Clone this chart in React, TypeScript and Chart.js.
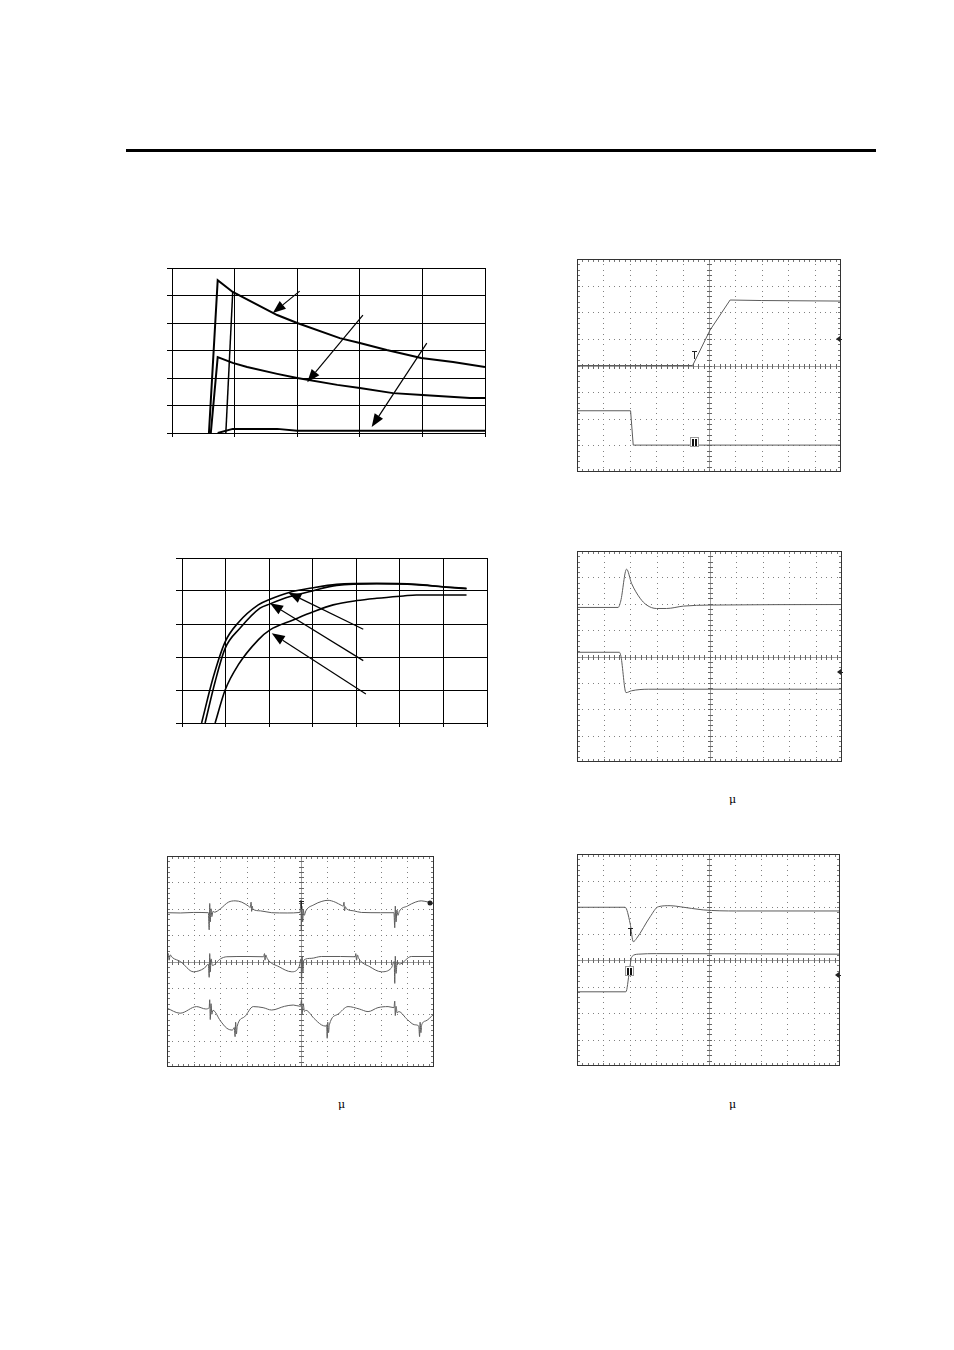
import React, { useEffect, useRef } from 'react';
import { Chart, registerables } from 'chart.js';

Chart.register(...registerables);

type P = [number, number];
type Arrow = [number, number, number, number];
type Marker = { kind: 'T' | 'II' | 'tri' | 'dot'; x: number; y: number };

// ---------- Chart 1 (top-left) ----------
const C1_A: P[] = [[0.59, 0], [0.73, 5.56], [0.97, 5.13], [1.68, 4.29], [2.0, 4.0], [2.68, 3.45], [3.0, 3.27], [3.43, 3.02], [3.98, 2.73], [4.49, 2.58], [5.0, 2.4]];
const C1_B: P[] = [[0.86, 0], [0.97, 5.13]];
const C1_C: P[] = [[0.62, 0], [0.73, 2.76], [0.97, 2.55], [1.2, 2.4], [1.68, 2.15], [2.0, 2.0], [2.64, 1.75], [3.0, 1.64], [3.53, 1.45], [4.0, 1.38], [4.76, 1.27], [5.0, 1.27]];
const C1_D: P[] = [[0.73, 0], [0.97, 0.15], [1.68, 0.15], [2.0, 0.08], [5.0, 0.08]];
const C1_ARROWS: Arrow[] = [[2.04, 5.16, 1.61, 4.36], [3.05, 4.29, 2.16, 1.85], [4.07, 3.27, 3.19, 0.22]];

// ---------- Chart 2 (middle-left) ----------
const C2_A: P[] = [[0.45, 0], [0.72, 1.4], [0.99, 2.46], [1.29, 3.04], [1.75, 3.58], [2.02, 3.75], [2.44, 3.95], [3.01, 4.1], [3.55, 4.2], [4.47, 4.23], [5.38, 4.2], [5.99, 4.13], [6.53, 4.08]];
const C2_B: P[] = [[0.53, 0], [0.76, 1.25], [0.99, 2.26], [1.33, 2.87], [1.79, 3.48], [2.02, 3.61], [2.48, 3.83], [3.01, 4.01], [3.55, 4.17], [4.47, 4.22], [5.38, 4.19], [5.99, 4.12], [6.53, 4.07]];
const C2_C: P[] = [[0.76, 0], [0.99, 1.0], [1.29, 1.76], [1.75, 2.52], [2.02, 2.82], [2.55, 3.12], [3.01, 3.37], [3.47, 3.58], [4.01, 3.71], [4.47, 3.78], [5.08, 3.85], [5.38, 3.88], [6.53, 3.88]];
const C2_ARROWS: Arrow[] = [[4.16, 2.84, 2.44, 3.95], [4.16, 1.89, 2.02, 3.63], [4.22, 0.88, 2.06, 2.72]];

// ---------- Chart 3 (top-right scope) ----------
const C3_T1: P[] = [[0, 0], [4.38, 0], [5.04, 1.33], [5.8, 2.46], [7.0, 2.44], [10, 2.42]];
const C3_T2: P[] = [[0, -1.7], [2.03, -1.7], [2.13, -2.99], [10, -2.99]];
const C3_MARKERS: Marker[] = [{ kind: 'T', x: 4.43, y: 0.4 }, { kind: 'II', x: 4.43, y: -2.88 }, { kind: 'tri', x: 9.93, y: 1.0 }];

// ---------- Chart 4 (middle-right scope) ----------
const C4_T1: P[] = [[0, 1.86], [1.55, 1.86], [1.65, 2.1], [1.87, 3.31], [2.06, 2.77], [2.38, 2.21], [2.63, 1.95], [3.0, 1.82], [3.38, 1.82], [4.01, 1.91], [5.02, 1.95], [10, 1.97]];
const C4_T2: P[] = [[0, 0.16], [1.6, 0.16], [1.66, 0.0], [1.85, -1.37], [2.06, -1.3], [2.69, -1.24], [10, -1.24]];
const C4_MARKERS: Marker[] = [{ kind: 'tri', x: 9.93, y: -0.6 }];

// ---------- Chart 5 (bottom-left scope) ----------
const C5_A: P[] = [[0, 1.85], [0.5, 1.84], [1.0, 1.86], [1.55, 1.85], [1.58, 1.2], [1.6, 2.2], [1.62, 1.5], [1.65, 2.0], [1.68, 1.7], [1.72, 1.9], [1.78, 1.87], [2.0, 2.0], [2.3, 2.25], [2.55, 2.3], [2.8, 2.25], [3.05, 2.1], [3.12, 2.05], [3.15, 2.25], [3.17, 1.9], [3.19, 2.1], [3.22, 1.98], [3.5, 1.92], [3.92, 1.85], [4.5, 1.84], [4.98, 1.86], [5.02, 2.33], [5.03, 1.19], [5.05, 2.1], [5.08, 1.5], [5.11, 1.95], [5.14, 1.75], [5.2, 1.92], [5.5, 2.15], [5.8, 2.28], [6.03, 2.32], [6.3, 2.25], [6.55, 2.12], [6.6, 2.1], [6.63, 2.25], [6.65, 1.92], [6.68, 2.08], [6.72, 2.0], [7.0, 1.92], [7.28, 1.86], [8.0, 1.85], [8.5, 1.85], [8.53, 1.28], [8.55, 2.1], [8.58, 1.5], [8.61, 1.95], [8.65, 1.75], [8.7, 1.9], [9.0, 2.1], [9.3, 2.25], [9.52, 2.3], [9.8, 2.25], [10, 2.2]];
const C5_B: P[] = [[0, 0.18], [0.05, 0.3], [0.08, 0.05], [0.12, 0.25], [0.2, 0.15], [0.5, 0.0], [0.99, -0.39], [1.4, -0.25], [1.55, -0.1], [1.58, -0.6], [1.6, 0.3], [1.62, -0.4], [1.65, 0.1], [1.7, -0.15], [2.0, 0.1], [2.24, 0.18], [3.0, 0.19], [3.62, 0.18], [3.65, 0.3], [3.67, 0.05], [3.7, 0.25], [3.75, 0.12], [4.2, -0.2], [4.67, -0.39], [4.95, -0.2], [5.02, 0.1], [5.04, -0.75], [5.06, 0.2], [5.09, -0.4], [5.12, 0.05], [5.4, 0.12], [5.78, 0.19], [6.5, 0.19], [7.05, 0.18], [7.07, 0.3], [7.1, 0.05], [7.13, 0.25], [7.18, 0.12], [7.6, -0.2], [8.03, -0.39], [8.4, -0.25], [8.51, 0.0], [8.53, -0.83], [8.55, 0.2], [8.58, -0.45], [8.62, 0.0], [8.7, -0.1], [9.15, 0.19], [10, 0.19]];
const C5_C: P[] = [[0, -1.77], [0.49, -1.96], [1.11, -1.71], [1.45, -1.8], [1.58, -1.75], [1.6, -1.45], [1.62, -2.2], [1.65, -1.6], [1.68, -2.0], [1.72, -1.85], [2.0, -2.25], [2.24, -2.53], [2.45, -2.6], [2.52, -2.5], [2.55, -2.85], [2.57, -2.3], [2.6, -2.75], [2.63, -2.45], [2.9, -2.1], [3.23, -1.71], [3.6, -1.75], [3.92, -1.84], [4.4, -1.7], [4.73, -1.65], [5.0, -1.7], [5.04, -1.45], [5.06, -2.0], [5.1, -1.6], [5.15, -1.9], [5.2, -1.85], [5.5, -2.15], [5.78, -2.4], [5.95, -2.45], [5.98, -2.4], [6.0, -2.91], [6.02, -2.3], [6.05, -2.7], [6.08, -2.4], [6.4, -2.0], [6.78, -1.71], [7.2, -1.8], [7.53, -1.9], [7.9, -1.75], [8.28, -1.71], [8.5, -1.75], [8.53, -1.5], [8.55, -2.05], [8.58, -1.7], [8.62, -1.95], [8.68, -1.9], [9.0, -2.2], [9.28, -2.4], [9.43, -2.45], [9.46, -2.85], [9.48, -2.3], [9.51, -2.7], [9.54, -2.4], [9.7, -2.25], [9.96, -2.03]];
const C5_MARKERS: Marker[] = [{ kind: 'T', x: 5.0, y: 2.15 }, { kind: 'dot', x: 9.85, y: 2.2 }];

// ---------- Chart 6 (bottom-right scope) ----------
const C6_T1: P[] = [[0, 1.99], [1.83, 1.99], [2.02, 1.38], [2.14, 0.69], [2.27, 0.82], [2.78, 1.63], [3.09, 2.01], [3.54, 2.05], [3.92, 2.01], [4.8, 1.89], [6.07, 1.85], [10, 1.85]];
const C6_T2: P[] = [[0, -1.2], [1.86, -1.2], [1.99, -0.44], [2.08, 0.12], [2.33, 0.22], [3.03, 0.24], [10, 0.22]];
const C6_MARKERS: Marker[] = [{ kind: 'T', x: 2.02, y: 1.05 }, { kind: 'II', x: 1.98, y: -0.42 }, { kind: 'tri', x: 9.93, y: -0.57 }];

const toXY = (a: P[]) => a.map(([x, y]) => ({ x, y }));

function arrowPlugin(arrows: Arrow[]) {
  return {
    id: 'arrows',
    afterDatasetsDraw(chart: any) {
      const { ctx, scales } = chart;
      ctx.save();
      ctx.strokeStyle = '#000';
      ctx.fillStyle = '#000';
      ctx.lineWidth = 1.2;
      for (const [x1, y1, x2, y2] of arrows) {
        const ax = scales.x.getPixelForValue(x1);
        const ay = scales.y.getPixelForValue(y1);
        const bx = scales.x.getPixelForValue(x2);
        const by = scales.y.getPixelForValue(y2);
        const ang = Math.atan2(by - ay, bx - ax);
        const L = 13, W = 5;
        const hx = bx - L * Math.cos(ang), hy = by - L * Math.sin(ang);
        ctx.beginPath();
        ctx.moveTo(ax, ay);
        ctx.lineTo(hx, hy);
        ctx.stroke();
        ctx.beginPath();
        ctx.moveTo(bx, by);
        ctx.lineTo(hx + W * Math.sin(ang), hy - W * Math.cos(ang));
        ctx.lineTo(hx - W * Math.sin(ang), hy + W * Math.cos(ang));
        ctx.closePath();
        ctx.fill();
      }
      ctx.restore();
    },
  };
}

const graticulePlugin = {
  id: 'graticule',
  beforeDatasetsDraw(chart: any) {
    const { ctx, scales, chartArea } = chart;
    const xs = scales.x, ys = scales.y;
    const px = (v: number) => Math.round(xs.getPixelForValue(v));
    const py = (v: number) => Math.round(ys.getPixelForValue(v));
    ctx.save();
    ctx.fillStyle = '#808080';
    for (let i = 1; i < 10; i++) {
      if (i === 5) continue;
      for (let j = 1; j < 40; j++) ctx.fillRect(px(i), py(-4 + j * 0.2), 1, 1);
    }
    for (let i = -3; i <= 3; i++) {
      if (i === 0) continue;
      for (let j = 1; j < 50; j++) ctx.fillRect(px(j * 0.2), py(i), 1, 1);
    }
    ctx.fillStyle = '#a0a0a0';
    ctx.fillRect(px(5), chartArea.top, 1, chartArea.bottom - chartArea.top);
    ctx.fillRect(chartArea.left, py(0), chartArea.right - chartArea.left, 1);
    ctx.fillStyle = '#666';
    for (let j = 1; j < 40; j++) ctx.fillRect(px(5) - 2, py(-4 + j * 0.2), 5, 1);
    for (let j = 1; j < 50; j++) ctx.fillRect(px(j * 0.2), py(0) - 2, 1, 5);
    ctx.fillStyle = '#777';
    for (let j = 1; j < 50; j++) {
      ctx.fillRect(px(j * 0.2), chartArea.top, 1, 3);
      ctx.fillRect(px(j * 0.2), chartArea.bottom - 3, 1, 3);
    }
    for (let j = 1; j < 40; j++) {
      ctx.fillRect(chartArea.left, py(-4 + j * 0.2), 3, 1);
      ctx.fillRect(chartArea.right - 3, py(-4 + j * 0.2), 3, 1);
    }
    ctx.restore();
  },
  afterDatasetsDraw(chart: any) {
    const { ctx, chartArea } = chart;
    ctx.save();
    ctx.strokeStyle = '#333';
    ctx.lineWidth = 1;
    ctx.strokeRect(chartArea.left + 0.5, chartArea.top + 0.5, chartArea.right - chartArea.left - 1, chartArea.bottom - chartArea.top - 1);
    ctx.restore();
  },
};

function markerPlugin(markers: Marker[]) {
  return {
    id: 'markers',
    afterDatasetsDraw(chart: any) {
      const { ctx, scales } = chart;
      ctx.save();
      for (const m of markers) {
        const x = Math.round(scales.x.getPixelForValue(m.x));
        const y = Math.round(scales.y.getPixelForValue(m.y));
        if (m.kind === 'T') {
          ctx.fillStyle = '#222';
          ctx.fillRect(x - 2, y - 4, 5, 1);
          ctx.fillRect(x, y - 4, 1, 8);
        } else if (m.kind === 'II') {
          ctx.fillStyle = '#999';
          ctx.fillRect(x - 4, y - 5, 9, 10);
          ctx.fillStyle = '#fff';
          ctx.fillRect(x - 3, y - 4, 7, 8);
          ctx.fillStyle = '#111';
          ctx.fillRect(x - 2, y - 3, 2, 7);
          ctx.fillRect(x + 1, y - 3, 2, 7);
        } else if (m.kind === 'tri') {
          ctx.fillStyle = '#222';
          ctx.beginPath();
          ctx.moveTo(x - 3, y);
          ctx.lineTo(x + 1, y - 3);
          ctx.lineTo(x + 1, y + 3);
          ctx.closePath();
          ctx.fill();
          ctx.fillRect(x, y, 3, 1);
        } else {
          ctx.fillStyle = '#222';
          ctx.beginPath();
          ctx.arc(x, y, 2.5, 0, Math.PI * 2);
          ctx.fill();
        }
      }
      ctx.restore();
    },
  };
}

const line = (pts: P[], color: string, width: number, smooth = false) => ({
  data: toXY(pts),
  borderColor: color,
  borderWidth: width,
  pointRadius: 0,
  tension: smooth ? 0.4 : 0,
  cubicInterpolationMode: smooth ? 'monotone' : 'default',
  fill: false,
});

const excelConfig = (sets: any[], xMax: number, yMax: number, yTick: number, xTick: number, arrows: Arrow[]) => ({
  type: 'line',
  data: { datasets: sets },
  options: {
    animation: false,
    responsive: false,
    events: [],
    layout: { padding: 10 },
    plugins: { legend: { display: false }, tooltip: { enabled: false } },
    scales: {
      x: {
        type: 'linear', min: 0, max: xMax,
        ticks: { display: false, stepSize: 1 },
        grid: { color: '#000', lineWidth: 1, tickLength: xTick, tickColor: '#000' },
        border: { color: '#000', width: 1 },
      },
      y: {
        type: 'linear', min: 0, max: yMax,
        ticks: { display: false, stepSize: 1 },
        grid: { color: '#000', lineWidth: 1, tickLength: yTick, tickColor: '#000' },
        border: { color: '#000', width: 1 },
      },
    },
  },
  plugins: [arrowPlugin(arrows)],
});

const TRACE = '#5c5c5c';

const scopeConfig = (sets: any[], markers: Marker[]) => ({
  type: 'line',
  data: { datasets: sets },
  options: {
    animation: false,
    responsive: false,
    events: [],
    layout: { padding: 10 },
    plugins: { legend: { display: false }, tooltip: { enabled: false } },
    scales: {
      x: { type: 'linear', min: 0, max: 10, display: false },
      y: { type: 'linear', min: -4, max: 4, display: false },
    },
  },
  plugins: [graticulePlugin, markerPlugin(markers)],
});

function ChartBox({ left, top, width, height, make }: { left: number; top: number; width: number; height: number; make: () => any }) {
  const ref = useRef<HTMLCanvasElement | null>(null);
  useEffect(() => {
    if (!ref.current) return;
    const chart = new Chart(ref.current, make());
    return () => chart.destroy();
  }, []);
  return (
    <canvas
      ref={ref}
      width={width}
      height={height}
      style={{ position: 'absolute', left, top, width, height, display: 'block' }}
    />
  );
}

const muStyle = (left: number, top: number): React.CSSProperties => ({
  position: 'absolute', left, top, fontFamily: 'DejaVu Serif, serif', fontSize: 11, lineHeight: '12px', color: '#000',
});

export default function App() {
  return (
    <div style={{ position: 'absolute', left: 0, top: 0, width: 954, height: 1350, background: '#fff', overflow: 'hidden' }}>
      <div style={{ position: 'absolute', left: 126, top: 149, width: 750, height: 3, background: '#000' }} />
      <ChartBox left={157} top={258} width={338} height={189}
        make={() => excelConfig([line(C1_A, '#000', 2), line(C1_B, '#000', 1.5), line(C1_C, '#000', 2), line(C1_D, '#000', 2)], 5, 6, 5, 4, C1_ARROWS)} />
      <ChartBox left={166} top={548} width={331} height={189}
        make={() => excelConfig([line(C2_A, '#000', 1.6, true), line(C2_B, '#000', 1.6, true), line(C2_C, '#000', 1.6, true)], 7, 5, 6, 4, C2_ARROWS)} />
      <ChartBox left={567} top={249} width={284} height={233}
        make={() => scopeConfig([line(C3_T1, TRACE, 1), line(C3_T2, TRACE, 1)], C3_MARKERS)} />
      <ChartBox left={567} top={541} width={285} height={231}
        make={() => scopeConfig([line(C4_T1, TRACE, 1, true), line(C4_T2, TRACE, 1, true)], C4_MARKERS)} />
      <ChartBox left={157} top={846} width={287} height={231}
        make={() => scopeConfig([line(C5_A, TRACE, 1, true), line(C5_B, TRACE, 1, true), line(C5_C, TRACE, 1, true)], C5_MARKERS)} />
      <ChartBox left={567} top={844} width={283} height={232}
        make={() => scopeConfig([line(C6_T1, TRACE, 1, true), line(C6_T2, TRACE, 1, true)], C6_MARKERS)} />
      <span style={muStyle(729, 794)}>μ</span>
      <span style={muStyle(338, 1099)}>μ</span>
      <span style={muStyle(729, 1099)}>μ</span>
    </div>
  );
}
